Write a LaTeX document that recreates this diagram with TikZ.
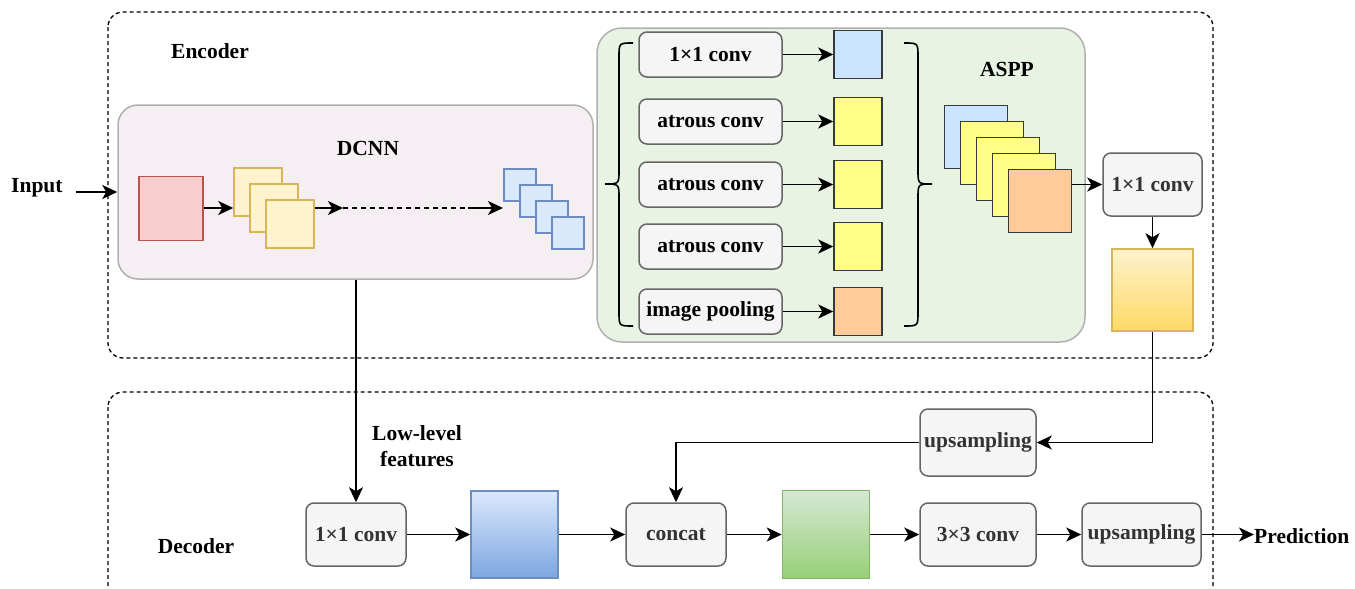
\documentclass[tikz,border=0pt]{standalone}
\usepackage{fontspec}
\setmainfont{Liberation Serif}
\usetikzlibrary{arrows.meta}
\definecolor{boxfill}{HTML}{F5F5F5}
\definecolor{boxline}{HTML}{666666}
\definecolor{boxtext}{HTML}{333333}
\definecolor{dcnnfill}{HTML}{F5EFF3}
\definecolor{asppfill}{HTML}{E9F3E3}
\definecolor{paneline}{HTML}{B0B0B0}
\definecolor{redfill}{HTML}{F8CECC}
\definecolor{redline}{HTML}{B85450}
\definecolor{ylwfill}{HTML}{FFF2CC}
\definecolor{ylwline}{HTML}{D6B656}
\definecolor{ylwdeep}{HTML}{FFD966}
\definecolor{bluefill}{HTML}{DAE8FC}
\definecolor{blueline}{HTML}{6C8EBF}
\definecolor{bluedeep}{HTML}{7EA6E0}
\definecolor{grnfill}{HTML}{D5E8D4}
\definecolor{grnline}{HTML}{82B366}
\definecolor{grndeep}{HTML}{97D077}
\definecolor{featblue}{HTML}{CCE5FF}
\definecolor{featylw}{HTML}{FFFF88}
\definecolor{featorg}{HTML}{FFCC99}
\definecolor{featline}{HTML}{36393D}
\tikzset{
  lbl/.style={font=\fontsize{21.5}{23.5}\selectfont\bfseries, inner sep=0pt},
  opbox/.style={draw=boxline, fill=boxfill, rounded corners=8pt, line width=1.5pt,
    text=boxtext, font=\fontsize{21.5}{23.5}\selectfont\bfseries, inner sep=0pt},
  brbox/.style={opbox, text=black},
  sq/.style={draw, line width=1.5pt, inner sep=0pt, minimum width=#1, minimum height=#1},
  arr/.style={line width=1.8pt, -{Stealth[length=15pt,width=14pt,inset=4pt]}},
  ln/.style={line width=1.8pt},
  frame/.style={line width=1.3pt, dash pattern=on 4pt off 3pt, rounded corners=15pt},
}
\begin{document}
\begin{tikzpicture}[x=1pt,y=-1pt]
\useasboundingbox (0,0) rectangle (1355,589);
\clip (0,0) rectangle (1355,589);

% encoder / decoder frames
\draw[frame] (108,12) rectangle (1213,358);
\draw[frame] (108,392) rectangle (1213,605);
\node[lbl] (enc) at (210,51) {Encoder};
\node[lbl] (dec) at (196,546) {Decoder};

% DCNN backbone
\node[draw=paneline, fill=dcnnfill, line width=1.5pt, rounded corners=20pt,
  minimum width=475pt, minimum height=174pt] (dcnn) at (355.5,192) {};
\node[lbl] (dcnnlbl) at (368,148) {DCNN};
\node[sq=64pt, draw=redline, fill=redfill] (red) at (171,208.5) {};
\node[sq=48pt, draw=ylwline, fill=ylwfill] (y1) at (258,192) {};
\node[sq=48pt, draw=ylwline, fill=ylwfill] (y2) at (274,208) {};
\node[sq=48pt, draw=ylwline, fill=ylwfill] (y3) at (290,224) {};
\node[sq=32pt, draw=blueline, fill=bluefill] (b1) at (520,185) {};
\node[sq=32pt, draw=blueline, fill=bluefill] (b2) at (536,201) {};
\node[sq=32pt, draw=blueline, fill=bluefill] (b3) at (552,217) {};
\node[sq=32pt, draw=blueline, fill=bluefill] (b4) at (568,233) {};
\coordinate (dashA) at (343,208);
\coordinate (dashB) at (468,208);
\coordinate (bstack) at (503,208);
\draw[arr] (red.east |- dashA) -- (y1.west |- dashA);
\draw[arr] (y3.east |- dashA) -- (dashA);
\draw[ln, dash pattern=on 5pt off 4pt] (dashA) -- (dashB);
\draw[arr] (dashB) -- (bstack);

% input
\node[lbl, anchor=west] (input) at (11,188) {Input};
\draw[arr] ([xshift=13pt]input.east |- dcnn.west) -- (dcnn.west);

% ASPP block
\node[draw=paneline, fill=asppfill, line width=1.5pt, rounded corners=25pt,
  minimum width=488pt, minimum height=314pt] (aspp) at (841,185) {};
\node[lbl] (aspplbl) at (1007,69) {ASPP};
\draw[line width=1.6pt] (633,43) .. controls (619,43) .. (619,57) -- (619,170)
  .. controls (619,184) .. (605,184) .. controls (619,184) .. (619,198) -- (619,312)
  .. controls (619,326) .. (633,326);
\draw[line width=1.6pt] (904,43) .. controls (918,43) .. (918,57) -- (918,170)
  .. controls (918,184) .. (932,184) .. controls (918,184) .. (918,198) -- (918,312)
  .. controls (918,326) .. (904,326);
\foreach \n/\t/\y/\c in {1/1×1 conv/54.5/featblue, 2/atrous conv/121.5/featylw,
    3/atrous conv/184.5/featylw, 4/atrous conv/246.5/featylw, 5/image pooling/311.5/featorg}{
  \node[brbox, minimum width=143pt, minimum height=45pt] (br\n) at (710.5,\y) {\t};
  \node[sq=48pt, draw=featline, fill=\c] (f\n) at (858,\y) {};
  \draw[arr] (br\n.east) -- (f\n.west);
}
\node[sq=63pt, draw=featline, fill=featblue] (s1) at (976,137) {};
\node[sq=63pt, draw=featline, fill=featylw] (s2) at (992,153) {};
\node[sq=63pt, draw=featline, fill=featylw] (s3) at (1008,169) {};
\node[sq=63pt, draw=featline, fill=featylw] (s4) at (1024,185) {};
\node[sq=63pt, draw=featline, fill=featorg] (s5) at (1040,201) {};

% ASPP output branch
\node[opbox, minimum width=99pt, minimum height=63pt] (conv1) at (1152.5,184.5) {1×1 conv};
\draw[arr] (s5.east |- conv1.west) -- (conv1.west);
\node[draw=ylwline, line width=1.5pt, top color=ylwfill, bottom color=ylwdeep,
  minimum width=81pt, minimum height=82pt, inner sep=0pt] (gy) at (1152.5,290) {};
\draw[arr] (conv1.south) -- (gy.north);
\node[opbox, minimum width=116pt, minimum height=67pt] (up1) at (978,442.5) {upsampling};
\draw[arr] (gy.south) |- (up1.east);

% decoder row
\node[opbox, minimum width=100pt, minimum height=63pt] (conv2) at (356,534.5) {1×1 conv};
\node[draw=blueline, line width=1.5pt, top color=bluefill, bottom color=bluedeep,
  minimum width=87pt, minimum height=87pt, inner sep=0pt] (gb) at (514.5,534.5) {};
\node[opbox, minimum width=100pt, minimum height=63pt] (concat) at (676,534.5) {concat};
\node[draw=grnline, line width=1.5pt, top color=grnfill, bottom color=grndeep,
  minimum width=87pt, minimum height=88pt, inner sep=0pt] (gg) at (826,534.5) {};
\node[opbox, minimum width=116pt, minimum height=63pt] (conv3) at (978,534.5) {3×3 conv};
\node[opbox, minimum width=119pt, minimum height=63pt] (up2) at (1141.5,534.5) {upsampling};
\node[lbl, anchor=west] (pred) at (1254,536) {Prediction};
\node[lbl, align=center] (lowlbl) at (417,446) {Low-level\\[2pt]features};

\draw[arr] (conv2.north |- dcnn.south) -- (conv2.north);
\draw[arr] (up1.west) -| (concat.north);
\draw[arr] (conv2.east) -- (gb.west);
\draw[arr] (gb.east) -- (concat.west);
\draw[arr] (concat.east) -- (gg.west);
\draw[arr] (gg.east) -- (conv3.west);
\draw[arr] (conv3.east) -- (up2.west);
\draw[arr] (up2.east) -- (up2.east -| pred.west);
\end{tikzpicture}
\end{document}
